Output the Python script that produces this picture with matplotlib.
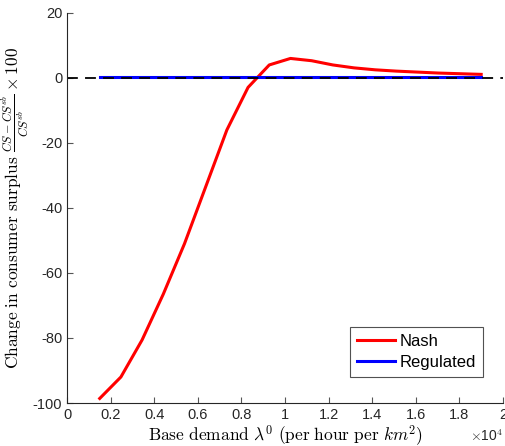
import matplotlib
matplotlib.use("Agg")
import matplotlib.pyplot as plt
from matplotlib.ticker import FixedLocator, FuncFormatter

plt.rcParams['mathtext.fontset'] = 'cm'
plt.rcParams['font.family'] = ['Liberation Sans', 'DejaVu Sans']

# Data (base demand per hour per km^2)
demand = [1500, 2472, 3444, 4417, 5389, 6361, 7333, 8306, 9278, 10250,
          11222, 12194, 13167, 14139, 15111, 16083, 17056, 18028, 19000]
nash = [-98.6, -92.0, -80.6, -66.5, -51.0, -33.5, -16.0, -2.9, 4.0, 6.0,
        5.3, 4.0, 3.1, 2.5, 2.1, 1.8, 1.5, 1.3, 1.1]
regulated = [0.2] * len(demand)

xticks = [0, 2000, 4000, 6000, 8000, 10000, 12000, 14000, 16000, 18000, 20000]
yticks = [-100, -80, -60, -40, -20, 0, 20]

fig = plt.figure(figsize=(5.05, 4.46), dpi=100)
ax = fig.add_axes([0.1327, 0.0964, 0.8633, 0.8746])

ax.plot(demand, nash, color='#ff0000', lw=2.2, label='Nash')
ax.plot(demand, regulated, color='#0000ff', lw=2.2, label='Regulated')
ax.axhline(0, color='black', lw=1.3, ls=(0, (6, 4)))

ax.set_xlim(0, 20000)
ax.set_ylim(-100, 20)
ax.xaxis.set_major_locator(FixedLocator(xticks))
ax.yaxis.set_major_locator(FixedLocator(yticks))
ax.xaxis.set_major_formatter(FuncFormatter(lambda v, p: ('%g' % (v / 1e4))))
ax.yaxis.set_major_formatter(FuncFormatter(lambda v, p: ('%g' % v).replace('\u2212', '-')))

for s in ['top', 'right']:
    ax.spines[s].set_visible(False)
for s in ['left', 'bottom']:
    ax.spines[s].set_color('#262626')
    ax.spines[s].set_linewidth(0.8)
ax.tick_params(direction='in', length=4, width=0.8, colors='#555555', labelsize=10.5,
               labelcolor='#262626')

ax.set_xlabel(r'$\mathrm{Base\ demand\ }\lambda^0\mathrm{\ (per\ hour\ per\ }km^2\mathrm{)}$',
              fontsize=12.5, labelpad=1)
ax.set_ylabel(r'$\mathrm{Change\ in\ consumer\ surplus\ }\frac{CS-CS^{sb}}{CS^{sb}}\times 100$',
              fontsize=12.5)
ax.yaxis.set_label_coords(-0.082, 0.5)
ax.text(1.0, -0.066, r'$\times$10$^4$', transform=ax.transAxes, ha='right', va='top',
        fontsize=10, color='#262626')

leg = ax.legend(loc='lower right', bbox_to_anchor=(0.954, 0.067), fontsize=12,
                frameon=True, fancybox=False, handlelength=2.3, handletextpad=0.3,
                borderpad=0.4, labelspacing=0.4, borderaxespad=0)
leg.get_frame().set_edgecolor('#262626')
leg.get_frame().set_linewidth(0.8)

fig.savefig('out.png', dpi=100)
